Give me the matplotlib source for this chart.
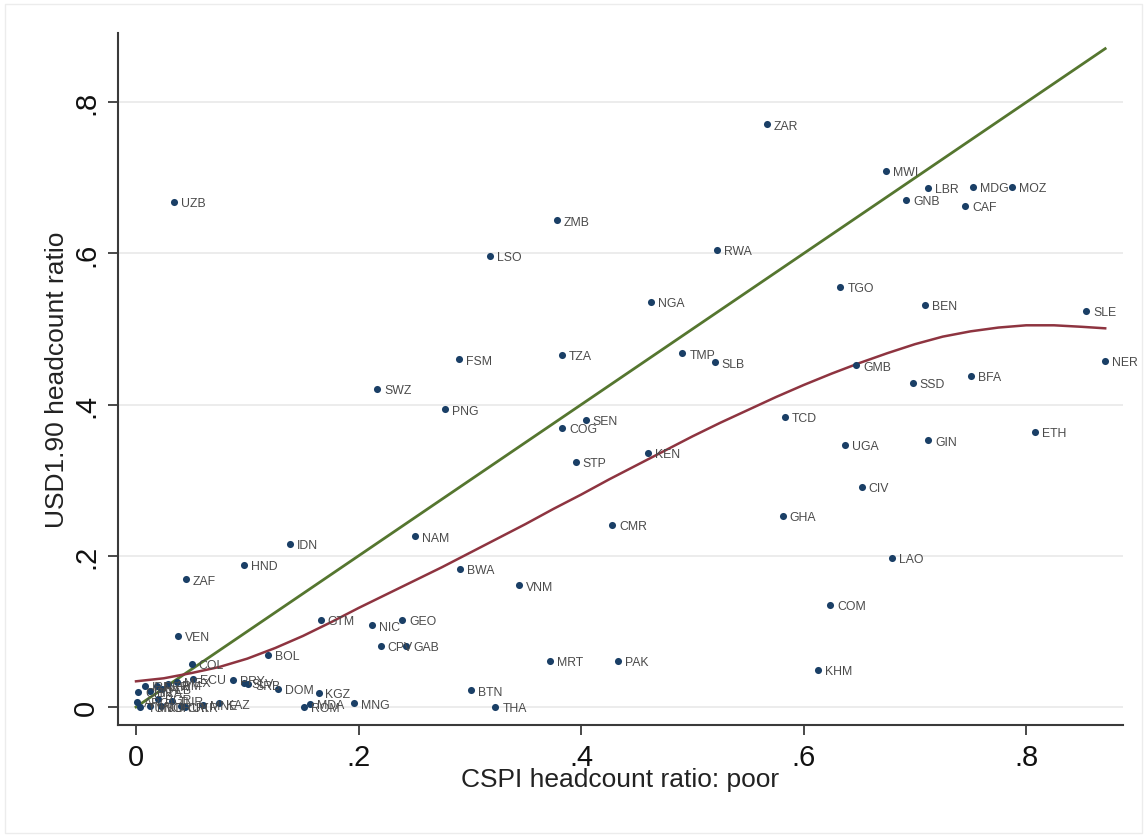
import matplotlib
matplotlib.use("Agg")
import matplotlib.pyplot as plt
from matplotlib.patches import Rectangle

# ---- data ----
codes = ["ZAR", "MWI", "LBR", "MDG", "MOZ", "GNB", "CAF", "UZB", "ZMB", "LSO",
         "RWA", "NGA", "TGO", "BEN", "SLE", "FSM", "TZA", "TMP", "SLB", "NER",
         "GMB", "BFA", "SSD", "SWZ", "PNG", "TCD", "SEN", "COG", "ETH", "UGA",
         "GIN", "KEN", "STP", "CIV", "GHA", "CMR", "IDN", "NAM", "LAO", "HND",
         "BWA", "ZAF", "VNM", "COM", "GTM", "NIC", "GEO", "CPV", "GAB", "VEN",
         "BOL", "KHM", "MRT", "PAK", "BTN", "THA", "KGZ", "MNG", "MDA", "ROM",
         "DOM", "SRB", "SLV", "PRY", "COL", "KAZ", "UKR", "MNE", "ECU", "MEX",
         "TUR", "ARM", "ALB", "PER", "BRA", "IRN", "CHN", "ARG", "BGR", "CRI",
         "TUN", "MKD", "JOR"]
cspi = [0.567, 0.674, 0.712, 0.752, 0.787, 0.692, 0.745, 0.034, 0.378, 0.318,
        0.522, 0.463, 0.633, 0.709, 0.854, 0.290, 0.383, 0.491, 0.520, 0.871,
        0.647, 0.750, 0.698, 0.217, 0.278, 0.583, 0.404, 0.383, 0.808, 0.637,
        0.712, 0.460, 0.395, 0.652, 0.581, 0.428, 0.138, 0.251, 0.679, 0.097,
        0.291, 0.045, 0.344, 0.624, 0.166, 0.212, 0.239, 0.220, 0.243, 0.038,
        0.119, 0.613, 0.372, 0.433, 0.301, 0.323, 0.164, 0.196, 0.156, 0.151,
        0.128, 0.101, 0.097, 0.087, 0.050, 0.075, 0.044, 0.060, 0.051, 0.037,
        0.032, 0.029, 0.023, 0.019, 0.013, 0.008, 0.002, 0.001, 0.020, 0.040,
        0.004, 0.013, 0.022]
usd190 = [0.771, 0.709, 0.687, 0.688, 0.688, 0.671, 0.663, 0.668, 0.644, 0.597,
          0.605, 0.536, 0.556, 0.532, 0.524, 0.460, 0.466, 0.468, 0.456, 0.458,
          0.452, 0.438, 0.429, 0.421, 0.394, 0.384, 0.380, 0.369, 0.364, 0.347,
          0.353, 0.336, 0.324, 0.291, 0.253, 0.241, 0.216, 0.226, 0.197, 0.188,
          0.183, 0.169, 0.161, 0.135, 0.115, 0.108, 0.115, 0.081, 0.081, 0.094,
          0.069, 0.049, 0.061, 0.061, 0.022, 0.000, 0.019, 0.005, 0.004, 0.000,
          0.024, 0.030, 0.032, 0.036, 0.057, 0.005, 0.000, 0.003, 0.037, 0.033,
          0.008, 0.030, 0.024, 0.028, 0.021, 0.028, 0.020, 0.007, 0.011, 0.001,
          0.000, 0.001, 0.001]

# fitted curve
fit_x = [0.000, 0.025, 0.050, 0.075, 0.100, 0.125, 0.150, 0.175, 0.200, 0.225,
         0.250, 0.275, 0.300, 0.325, 0.350, 0.375, 0.400, 0.425, 0.450, 0.475,
         0.500, 0.525, 0.550, 0.575, 0.600, 0.625, 0.650, 0.675, 0.700, 0.725,
         0.750, 0.775, 0.800, 0.825, 0.850, 0.871]
fit_y = [0.034, 0.038, 0.045, 0.053, 0.064, 0.078, 0.094, 0.112, 0.131, 0.149,
         0.167, 0.185, 0.204, 0.223, 0.242, 0.262, 0.281, 0.301, 0.320, 0.339,
         0.358, 0.376, 0.393, 0.410, 0.426, 0.441, 0.455, 0.468, 0.480, 0.490,
         0.497, 0.502, 0.505, 0.505, 0.503, 0.501]

# 45-degree line endpoints
diag = [0.0, 0.871]

xticks = [0, 0.2, 0.4, 0.6, 0.8]
xticklabels = ["0", ".2", ".4", ".6", ".8"]
yticks = [0, 0.2, 0.4, 0.6, 0.8]
yticklabels = ["0", ".2", ".4", ".6", ".8"]

# ---- style ----
plt.rcParams["font.family"] = ["Liberation Sans", "DejaVu Sans"]
navy = "#1a3f66"
green = "#55762f"
maroon = "#8e3440"
axcol = "#3a3a3a"

fig = plt.figure(figsize=(11.47, 8.37), dpi=100)
fig.patch.set_facecolor("white")
fig.add_artist(Rectangle((0.004, 0.004), 0.992, 0.990, transform=fig.transFigure,
                         fill=False, edgecolor="#ececec", linewidth=1.0))

ax = fig.add_axes([118 / 1147, 1 - 726 / 837, (1123 - 118) / 1147, (726 - 34) / 837])
ax.set_xlim(-0.0162, 0.887)
ax.set_ylim(-0.0238, 0.8917)

for yv in yticks:
    ax.axhline(yv, color="#ebebeb", linewidth=1.3, zorder=0)

ax.scatter(cspi, usd190, s=26, color=navy, zorder=3, linewidths=0)
for c, xv, yv in zip(codes, cspi, usd190):
    ax.annotate(c, (xv, yv), xytext=(5, -1), textcoords="offset points",
                ha="left", va="center", fontsize=8.8, color="#4a4a4a", zorder=4)

ax.plot(diag, diag, color=green, linewidth=2.0, zorder=2)
ax.plot(fit_x, fit_y, color=maroon, linewidth=1.8, zorder=2)

ax.set_xticks(xticks)
ax.set_xticklabels(xticklabels, fontsize=21)
ax.set_yticks(yticks)
ax.set_yticklabels(yticklabels, fontsize=21, rotation=90, va="center")
ax.tick_params(axis="both", direction="out", length=7, width=1.3, color=axcol,
               labelcolor="#111111", pad=6)

for side in ["top", "right"]:
    ax.spines[side].set_visible(False)
for side in ["left", "bottom"]:
    ax.spines[side].set_color(axcol)
    ax.spines[side].set_linewidth(1.5)

ax.set_xlabel("CSPI headcount ratio: poor", fontsize=19, color="#222222", labelpad=-3)
ax.set_ylabel("USD1.90 headcount ratio", fontsize=19, color="#222222", labelpad=2)

fig.savefig("out.png", dpi=100, facecolor="white")
